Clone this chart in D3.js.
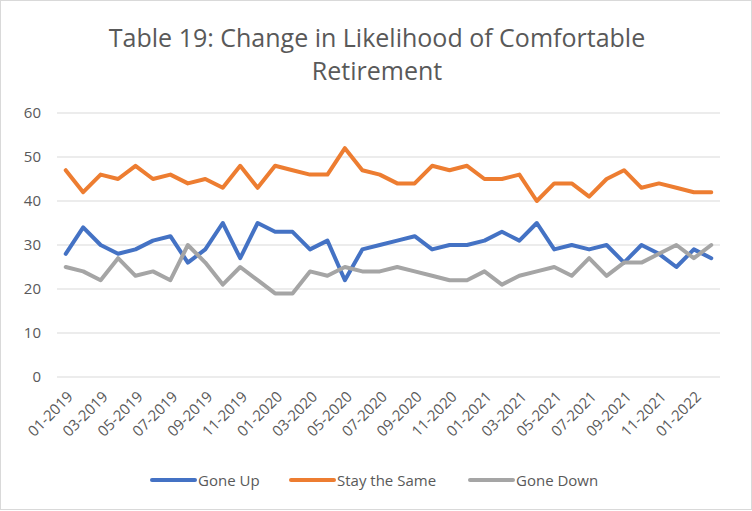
<!DOCTYPE html>
<html>
<head>
<meta charset="utf-8">
<script src="https://cdn.jsdelivr.net/npm/d3@7"></script>
<style>
  body { margin: 0; background: #fff; }
  svg text { font-family: "Open Sans", "Liberation Sans", sans-serif; fill: #595959; }
</style>
</head>
<body>
<svg id="chart" width="752" height="511"></svg>
<script>
// month labels, one per point
var months = [];
[2019, 2020, 2021, 2022].forEach(function (yr) {
  for (var m = 1; m <= 12; m++) {
    if (yr === 2022 && m > 2) break;
    months.push((m < 10 ? "0" + m : "" + m) + "-" + yr);
  }
});

var goneUp = [28,34,30,28,29,31,32,26,29,35,27,35,33,
              33,29,31,22,29,30,31,32,29,30,30,31,
              33,31,35,29,30,29,30,26,30,28,25,29,27];
var staySame = [47,42,46,45,48,45,46,44,45,43,48,43,48,
                47,46,46,52,47,46,44,44,48,47,48,45,
                45,46,40,44,44,41,45,47,43,44,43,42,42];
var goneDown = [25,24,22,27,23,24,22,30,26,21,25,22,19,
                19,24,23,25,24,24,25,24,23,22,22,24,
                21,23,24,25,23,27,23,26,26,28,30,27,30];

var yTicks = [0, 10, 20, 30, 40, 50, 60];
var seriesNames = ["Gone Up", "Stay the Same", "Gone Down"];
var seriesColors = ["#4472c4", "#ed7d31", "#a5a5a5"];

var svg = d3.select("#chart");

// outer frame
svg.append("rect")
  .attr("x", 0.5).attr("y", 0.5)
  .attr("width", 751).attr("height", 509)
  .attr("fill", "none").attr("stroke", "#d9d9d9");

// title
var title = svg.append("text")
  .attr("text-anchor", "middle")
  .style("font-size", "25px");
title.append("tspan").attr("x", 377).attr("y", 47).text("Table 19: Change in Likelihood of Comfortable");
title.append("tspan").attr("x", 377).attr("y", 80).text("Retirement");

var x = d3.scalePoint().domain(months).range([57, 720]).padding(0.5);
var y = d3.scaleLinear().domain([0, 60]).range([377, 113]);

// gridlines
svg.append("g")
  .selectAll("line")
  .data(yTicks)
  .join("line")
  .attr("x1", 57).attr("x2", 720)
  .attr("y1", function (d) { return y(d); })
  .attr("y2", function (d) { return y(d); })
  .attr("stroke", "#d9d9d9").attr("stroke-width", 1);

// y axis labels
var yAxis = d3.axisLeft(y).tickValues(yTicks).tickSize(0).tickPadding(0);
svg.append("g")
  .attr("transform", "translate(41,0)")
  .call(yAxis)
  .call(function (g) { g.select(".domain").remove(); })
  .selectAll("text")
  .style("font-size", "15px")
  .attr("fill", "#595959");

// x axis labels, every other month
var xAxis = d3.axisBottom(x)
  .tickValues(months.filter(function (d, i) { return i % 2 === 0; }))
  .tickSize(0).tickPadding(0);
svg.append("g")
  .attr("transform", "translate(4,394)")
  .call(xAxis)
  .call(function (g) { g.select(".domain").remove(); })
  .selectAll("text")
  .style("font-size", "15px")
  .attr("fill", "#595959")
  .attr("text-anchor", "end")
  .attr("dy", "0.35em")
  .attr("y", 0)
  .attr("transform", "rotate(-45)");

svg.selectAll(".tick text").attr("font-family", null);

// lines
var line = d3.line()
  .x(function (d, i) { return x(months[i]); })
  .y(function (d) { return y(d); });

[goneUp, staySame, goneDown].forEach(function (vals, k) {
  svg.append("path")
    .datum(vals)
    .attr("fill", "none")
    .attr("stroke", seriesColors[k])
    .attr("stroke-width", 4)
    .attr("stroke-linejoin", "round")
    .attr("stroke-linecap", "round")
    .attr("d", line);
});

// legend
var legendX = [152, 291, 470];
var legend = svg.append("g");
seriesNames.forEach(function (name, k) {
  legend.append("line")
    .attr("x1", legendX[k]).attr("x2", legendX[k] + 43)
    .attr("y1", 480).attr("y2", 480)
    .attr("stroke", seriesColors[k]).attr("stroke-width", 4)
    .attr("stroke-linecap", "round");
  legend.append("text")
    .attr("x", legendX[k] + 46).attr("y", 486)
    .style("font-size", "15px")
    .text(name);
});
</script>
</body>
</html>
